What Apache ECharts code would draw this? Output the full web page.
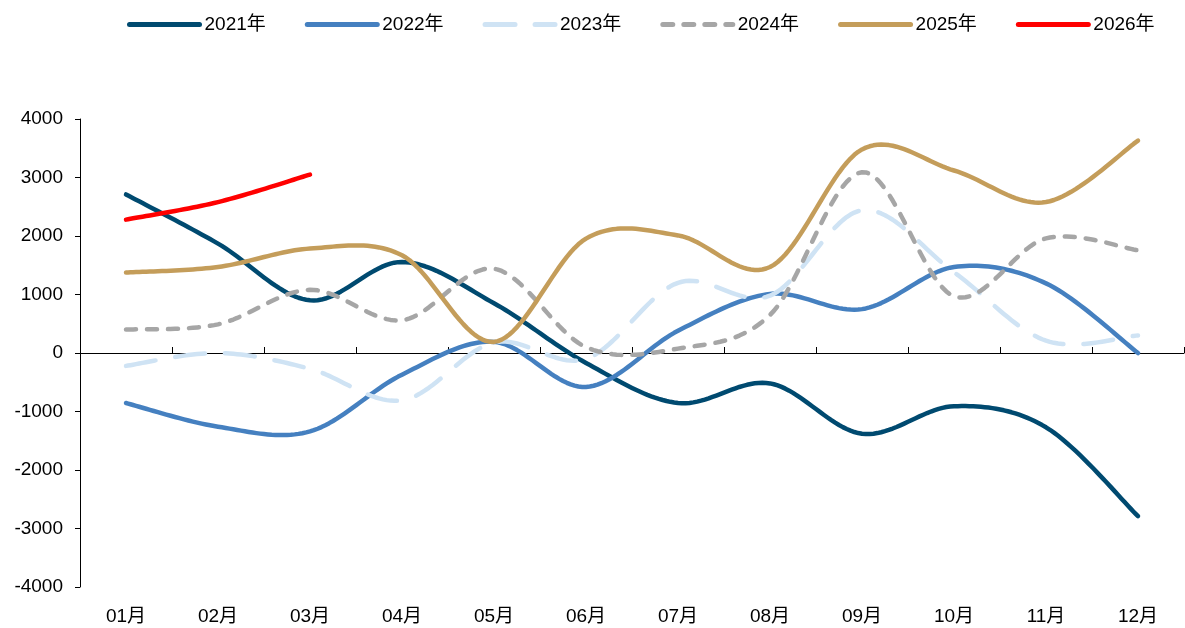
<!DOCTYPE html>
<html>
<head>
<meta charset="utf-8">
<script src="https://cdn.jsdelivr.net/npm/echarts@6/dist/echarts.min.js"></script>
<style>
html,body{margin:0;padding:0;background:#fff;}
#c{width:1185px;height:628px;}
</style>
</head>
<body>
<div id="c"></div>
<script>
const months = ['01月','02月','03月','04月','05月','06月','07月','08月','09月','10月','11月','12月'];
const yTicks = [-4000, 4000, 1000];
const seriesNames = ['2021年','2022年','2023年','2024年','2025年','2026年'];
const d2021 = [2710, 1870, 900, 1556, 850, -170, -855, -520, -1380, -910, -1270, -2790];
const d2022 = [-855, -1260, -1340, -370, 190, -580, 380, 1010, 750, 1470, 1190, 0];
const d2023 = [-220, 0, -270, -810, 180, -100, 1200, 980, 2440, 1380, 210, 300];
const d2024 = [400, 490, 1080, 560, 1440, 100, 75, 650, 3090, 970, 1960, 1755];
const d2025 = [1375, 1470, 1785, 1670, 190, 1955, 2010, 1470, 3480, 3120, 2580, 3630];
const d2026 = [2280, 2580, 3050];

const FONT = "'Liberation Sans', Arial, 'Noto Sans CJK SC', sans-serif";
const colors = ['#004A70', '#4580C0', '#CFE3F4', '#A6A6A6', '#C49D5A', '#FF0000'];
const dashes = ['solid', 'solid', [30, 20], [10, 11], 'solid', 'solid'];
const allData = [d2021, d2022, d2023, d2024, d2025, d2026];
const LW = 4.5;

// Excel-like (Catmull-Rom) smoothing through points given in pixel space by the axes
function smoothPoints(pts) {
  if (pts.length < 2) return pts;
  const out = [pts[0]];
  const STEPS = 24;
  for (let i = 0; i < pts.length - 1; i++) {
    const p0 = pts[i - 1] || pts[i], p1 = pts[i], p2 = pts[i + 1], p3 = pts[i + 2] || pts[i + 1];
    const c1 = [p1[0] + (p2[0] - p0[0]) / 6, p1[1] + (p2[1] - p0[1]) / 6];
    const c2 = [p2[0] - (p3[0] - p1[0]) / 6, p2[1] - (p3[1] - p1[1]) / 6];
    for (let k = 1; k <= STEPS; k++) {
      const t = k / STEPS, u = 1 - t;
      const a = u * u * u, b = 3 * u * u * t, c = 3 * u * t * t, d = t * t * t;
      out.push([a * p1[0] + b * c1[0] + c * c2[0] + d * p2[0],
                a * p1[1] + b * c1[1] + c * c2[1] + d * p2[1]]);
    }
  }
  return out;
}

const legendSeries = seriesNames.map((n, i) => ({
  name: n, type: 'line', data: [], symbol: 'none', silent: true,
  lineStyle: {color: colors[i], width: LW, type: dashes[i], cap: 'round'},
  itemStyle: {color: colors[i]}
}));

const curveSeries = seriesNames.map((n, i) => ({
  name: n, type: 'custom', xAxisIndex: 0, yAxisIndex: 0, z: 2 + i, silent: true,
  data: allData[i].map((v, j) => [j, v]),
  encode: {x: 0, y: 1},
  renderItem: function (params, api) {
    if (params.dataIndex !== 0) return null;
    const vals = allData[i];
    const pts = vals.map((v, j) => api.coord([j, v]));
    return {
      type: 'polyline',
      shape: {points: smoothPoints(pts)},
      style: {
        stroke: colors[i], fill: 'none', lineWidth: LW, lineCap: 'round', lineJoin: 'round',
        lineDash: Array.isArray(dashes[i]) ? dashes[i] : null
      }
    };
  }
}));

const chart = echarts.init(document.getElementById('c'), null, {renderer: 'canvas'});
chart.setOption({
  animation: false,
  textStyle: {fontFamily: FONT},
  legend: {
    left: 122, top: 10,
    itemWidth: 70, itemHeight: 12, itemGap: 39,
    lineStyle: {width: 5},
    itemStyle: {opacity: 0},
    textStyle: {fontSize: 19, color: '#000', fontFamily: FONT},
    data: seriesNames
  },
  grid: {left: 80, right: 1, top: 119, bottom: 41, containLabel: false},
  xAxis: [{
    type: 'category', data: months, position: 'bottom', boundaryGap: true,
    axisLine: {show: true, onZero: true, lineStyle: {color: '#000', width: 1}},
    axisTick: {show: true, inside: true, length: 6, interval: 0, lineStyle: {color: '#000'}},
    axisLabel: {show: false}, splitLine: {show: false}
  }, {
    type: 'category', data: months, position: 'bottom', boundaryGap: true,
    axisLine: {show: false, onZero: false},
    axisTick: {show: false},
    axisLabel: {show: true, interval: 0, fontSize: 19, color: '#000', margin: 20, fontFamily: FONT},
    splitLine: {show: false}
  }],
  yAxis: {
    type: 'value', min: yTicks[0], max: yTicks[1], interval: yTicks[2],
    axisLine: {show: true, lineStyle: {color: '#000', width: 1}},
    axisTick: {show: true, inside: false, length: 5, lineStyle: {color: '#000'}},
    axisLabel: {fontSize: 19, color: '#000', margin: 17, fontFamily: FONT, formatter: v => String(v)},
    splitLine: {show: false}
  },
  series: legendSeries.concat(curveSeries)
});
</script>
</body>
</html>
